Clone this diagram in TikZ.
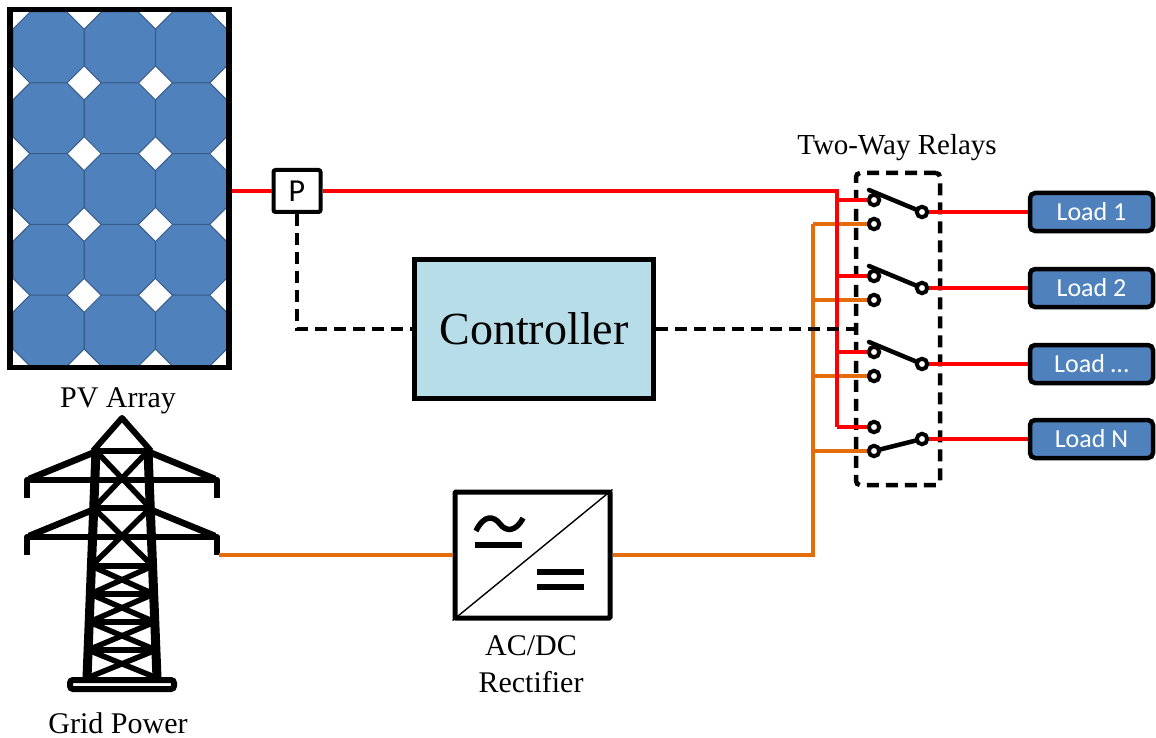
\documentclass[tikz,border=0pt]{standalone}
\usepackage{fontspec}
\setmainfont{Liberation Serif}
\newfontfamily\calib{Carlito}
\definecolor{cellblue}{HTML}{4F81BD}
\definecolor{celledge}{HTML}{385D8A}
\definecolor{ctrlblue}{HTML}{B7DDE8}
\definecolor{wirered}{HTML}{FF0000}
\definecolor{wireorange}{HTML}{E46C0A}
\begin{document}
\begin{tikzpicture}[x=1pt,y=-1pt]
  \tikzstyle{cell}=[fill=cellblue, draw=celledge, line width=1pt]
  \tikzstyle{label}=[font=\fontsize{30}{36}\selectfont, anchor=base]
  \tikzstyle{pbox}=[draw, line width=4pt, rounded corners=2pt, minimum width=47pt, minimum height=42pt, font=\calib\fontsize{32}{36}\selectfont]
  \tikzstyle{ctrl}=[draw, line width=5pt, fill=ctrlblue, minimum width=239pt, minimum height=139pt, font=\fontsize{46}{50}\selectfont]
  \tikzstyle{conv}=[draw, line width=5pt, rounded corners=1pt, minimum width=155pt, minimum height=126pt]
  \tikzstyle{relaybox}=[draw, line width=4.5pt, dashed, dash pattern=on 12pt off 7pt, rounded corners=4pt, minimum width=84pt, minimum height=312pt]
  \tikzstyle{contact}=[circle, draw, line width=4pt, fill=white, minimum size=10.5pt, inner sep=0pt]
  \tikzstyle{load}=[draw, line width=4.5pt, rounded corners=5pt, fill=cellblue, text=white, minimum width=123pt, minimum height=38pt, font=\calib\fontsize{26}{30}\selectfont]
  \tikzstyle{redwire}=[wirered, line width=4pt]
  \tikzstyle{orangewire}=[wireorange, line width=3.5pt]
  \tikzstyle{ctrlline}=[line width=4pt, dash pattern=on 12pt off 7pt]
  \tikzstyle{blade}=[line width=4.5pt, line cap=round]
  \tikzstyle{steel}=[line width=6.5pt, line join=round]
  \useasboundingbox (0,0) rectangle (1156,738);

  % PV array cells
  \foreach \col in {0,1,2}
    \foreach \row in {0,...,4}
      \draw[cell, shift={(13+71.3*\col,12+70.8*\row)}]
        (17,0) -- (54,0) -- (71,17) -- (71,54) -- (54,71) -- (17,71) -- (0,54) -- (0,17) -- cycle;
  \node[draw, line width=5.5pt, minimum width=219pt, minimum height=358pt, inner sep=0pt] (pv) at (119.5,188.5) {};
  \node[label] at (118,407) {PV Array};

  % Transmission tower
  \draw[steel, line width=6pt] (93,451) -- (122,418) -- (151,451);
  \draw[steel, line width=9pt] (96,451) -- (87,678);
  \draw[steel, line width=9pt] (148,451) -- (157,678);
  \foreach \y in {451,508,566,594,622,650}
    \draw[steel, line width=6pt] ({96-9*(\y-451)/227},\y) -- ({148+9*(\y-451)/227},\y);
  \foreach \ya/\yb in {451/508,508/566,566/594,594/622,622/650,650/678} {
    \draw[steel, line width=5.5pt] ({96-9*(\ya-451)/227},\ya) -- ({148+9*(\yb-451)/227},\yb);
    \draw[steel, line width=5.5pt] ({148+9*(\ya-451)/227},\ya) -- ({96-9*(\yb-451)/227},\yb);
  }
  \foreach \yy in {480,537} {
    \draw[steel] (27,\yy+18) -- (27,\yy) -- (217,\yy) -- (217,\yy+18);
    \draw[steel] (95,\yy-28) -- (29,\yy-1);
    \draw[steel] (149,\yy-28) -- (215,\yy-1);
  }
  \draw[line width=6pt, fill=white, rounded corners=3pt] (70,680) rectangle (174,689);
  \coordinate (grid) at (219,555);
  \node[label] at (118,733) {Grid Power};

  % Node definitions
  \node[pbox] (p) at (297,191) {P};
  \node[ctrl] (ctrl) at (534,329) {Controller};
  \node[conv] (rect) at (532.5,555) {};
  \node[label] at (531,655) {AC/DC};
  \node[label] at (531,692) {Rectifier};
  \node[relaybox] (relays) at (898,329) {};
  \node[label, font=\fontsize{29}{34}\selectfont] at (897,155) {Two-Way Relays};

  % Rectifier symbol
  \draw[line width=1.4pt] (rect.south west) -- (rect.north east);
  \draw[line width=5.5pt] (476,531) .. controls (484,514) and (494,516) .. (500,524)
    .. controls (506,532) and (516,532) .. (523,518);
  \draw[line width=5.5pt] (475,545) -- (522,545);
  \draw[line width=5.5pt] (537,572) -- (584,572);
  \draw[line width=5.5pt] (537,587) -- (584,587);

  % Relays and loads
  \foreach \i/\yy/\name in {1/200/1, 2/276/2, 3/352/…, 4/427/N} {
    \node[contact] (a\i) at (874,\yy) {};
    \node[contact] (b\i) at (874,\yy+24) {};
    \node[contact] (c\i) at (922,\yy+12) {};
    \node[load] (l\i) at (1091.5,\yy+12) {Load \name};
    \coordinate (rb\i) at (837,\yy);
    \coordinate (ob\i) at (813,\yy+24);
    \draw[redwire] (rb\i) -- (a\i);
    \draw[orangewire] (ob\i) -- (b\i);
    \draw[redwire] (c\i) -- (l\i);
  }
  \foreach \i/\yy in {1/200, 2/276, 3/352}
    \draw[blade] (c\i) -- (869,\yy-10);
  \draw[blade] (c4) -- (b4);

  % Power and control wiring
  \draw[redwire] (pv.east |- p.west) -- (p.west);
  \draw[redwire] (p.east) -| (rb4);
  \draw[orangewire] (grid) -- (rect.west);
  \draw[orangewire] (rect.east) -| (ob1);
  \draw[ctrlline] (p.south) |- (ctrl.west);
  \draw[ctrlline] (ctrl.east) -- (relays.west |- ctrl.east);
\end{tikzpicture}
\end{document}
